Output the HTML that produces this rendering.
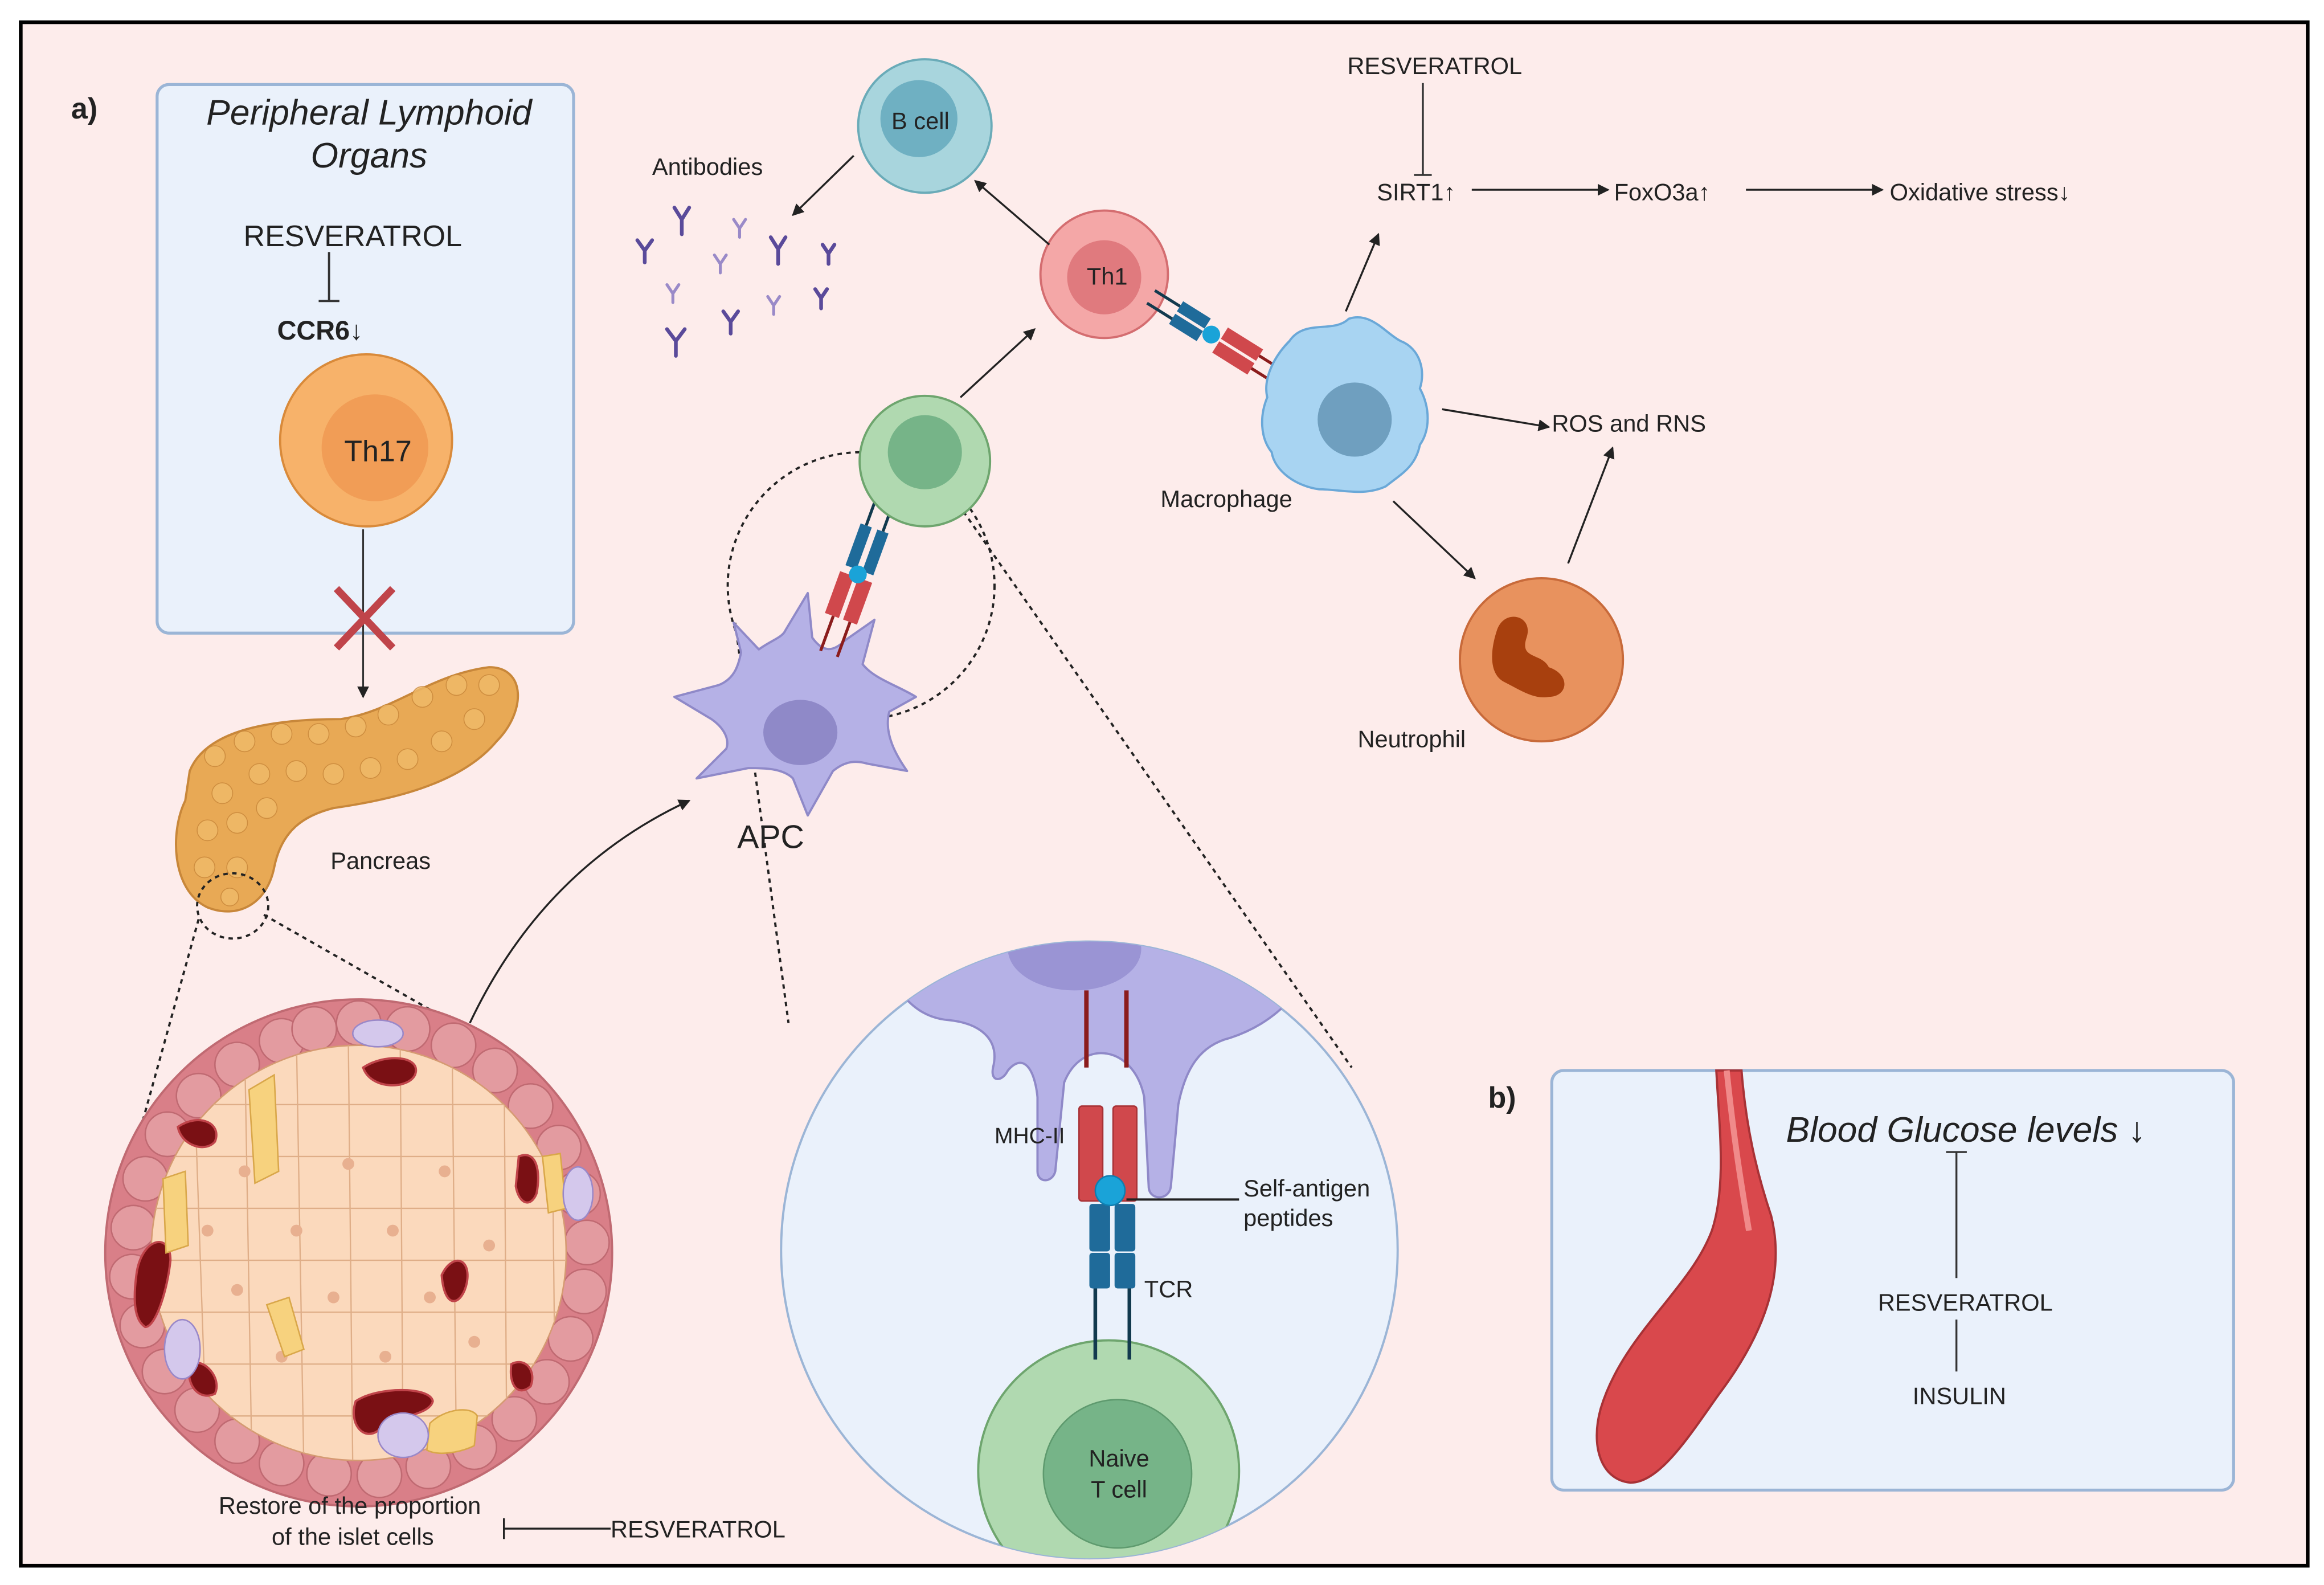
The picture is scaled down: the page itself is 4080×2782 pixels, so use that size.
<!DOCTYPE html>
<html><head><meta charset="utf-8"><style>
html,body{margin:0;padding:0;background:#fff}
svg{display:block}
text{font-family:"Liberation Sans",sans-serif;fill:#222}
</style></head><body>
<svg width="4080" height="2782" viewBox="0 0 1568 1069" preserveAspectRatio="none" xmlns="http://www.w3.org/2000/svg">
<defs>
<marker id="ar" markerWidth="8" markerHeight="8" refX="7" refY="4" orient="auto" markerUnits="userSpaceOnUse"><path d="M0,0 L8,4 L0,8 z" fill="#222"/></marker>
<clipPath id="bigc"><circle cx="735" cy="843" r="208"/></clipPath>
<clipPath id="frame"><rect x="14" y="15" width="1543" height="1041"/></clipPath>
<clipPath id="islet"><circle cx="242" cy="845" r="140"/></clipPath>
</defs>
<rect x="0" y="0" width="1568" height="1069" fill="#fff"/>
<rect x="14" y="15" width="1543" height="1041" fill="#fdeceb" stroke="#000" stroke-width="2.5"/>
<text x="48" y="80" font-size="20" font-weight="bold">a)</text>

<!-- left box -->
<rect x="106" y="57" width="281" height="370" rx="8" fill="#eaf1fb" stroke="#9bb5d6" stroke-width="2"/>
<text x="249" y="84" font-size="24" font-style="italic" text-anchor="middle">Peripheral Lymphoid</text>
<text x="249" y="113" font-size="24" font-style="italic" text-anchor="middle">Organs</text>
<text x="238" y="166" font-size="20" text-anchor="middle">RESVERATROL</text>
<line x1="222" y1="170" x2="222" y2="203" stroke="#333" stroke-width="1.5"/>
<line x1="215" y1="203" x2="229" y2="203" stroke="#333" stroke-width="1.5"/>
<text x="216" y="229" font-size="18" font-weight="bold" text-anchor="middle">CCR6↓</text>
<circle cx="247" cy="297" r="58" fill="#f7b26a" stroke="#d98a3a" stroke-width="1.5"/>
<circle cx="253" cy="302" r="36" fill="#f19d56"/>
<text x="255" y="311" font-size="20" text-anchor="middle">Th17</text>
<line x1="245" y1="357" x2="245" y2="470" stroke="#333" stroke-width="1.2" marker-end="url(#ar)"/>
<path d="M227,397 L265,437 M265,397 L227,437" stroke="#c0444a" stroke-width="5"/>

<!-- pancreas -->
<path d="M128,520 C140,490 190,485 230,485 C265,480 290,455 330,450 C355,450 355,480 335,500 C310,530 260,540 225,545 C205,550 190,560 185,585 C180,610 160,620 140,612 C115,600 115,560 125,540 Z" fill="#e8a955" stroke="#c8873a" stroke-width="1.5"/>
<g fill="#f0bb6a" stroke="#c8873a" stroke-width="0.6" opacity="0.8">
<circle cx="145" cy="510" r="7"/><circle cx="165" cy="500" r="7"/><circle cx="190" cy="495" r="7"/><circle cx="215" cy="495" r="7"/><circle cx="240" cy="490" r="7"/><circle cx="262" cy="482" r="7"/><circle cx="285" cy="470" r="7"/><circle cx="308" cy="462" r="7"/><circle cx="330" cy="462" r="7"/><circle cx="320" cy="485" r="7"/><circle cx="298" cy="500" r="7"/><circle cx="275" cy="512" r="7"/><circle cx="250" cy="518" r="7"/><circle cx="225" cy="522" r="7"/><circle cx="200" cy="520" r="7"/><circle cx="175" cy="522" r="7"/><circle cx="150" cy="535" r="7"/><circle cx="140" cy="560" r="7"/><circle cx="160" cy="555" r="7"/><circle cx="180" cy="545" r="7"/><circle cx="138" cy="585" r="7"/><circle cx="160" cy="585" r="7"/><circle cx="155" cy="605" r="6"/>
</g>
<text x="223" y="586" font-size="16">Pancreas</text>
<ellipse cx="157" cy="611" rx="24" ry="22" fill="none" stroke="#222" stroke-width="1.5" stroke-dasharray="3,3"/>
<line x1="134" y1="620" x2="73" y2="840" stroke="#222" stroke-width="1.5" stroke-dasharray="3,3"/>
<line x1="178" y1="617" x2="350" y2="715" stroke="#222" stroke-width="1.5" stroke-dasharray="3,3"/>

<!-- islet -->
<circle cx="242" cy="845" r="171" fill="#d97f88" stroke="#c06a72" stroke-width="1.5"/>
<g fill="#e39ba0" stroke="#c06a72" stroke-width="1">
<circle cx="242" cy="690" r="15"/><circle cx="275" cy="694" r="15"/><circle cx="306" cy="705" r="15"/><circle cx="334" cy="722" r="15"/><circle cx="358" cy="746" r="15"/><circle cx="377" cy="774" r="15"/><circle cx="390" cy="805" r="15"/><circle cx="396" cy="838" r="15"/><circle cx="394" cy="871" r="15"/><circle cx="385" cy="903" r="15"/><circle cx="369" cy="932" r="15"/><circle cx="347" cy="957" r="15"/><circle cx="320" cy="976" r="15"/><circle cx="289" cy="989" r="15"/><circle cx="256" cy="995" r="15"/><circle cx="222" cy="994" r="15"/><circle cx="190" cy="987" r="15"/><circle cx="160" cy="972" r="15"/><circle cx="133" cy="951" r="15"/><circle cx="111" cy="925" r="15"/><circle cx="96" cy="894" r="15"/><circle cx="89" cy="861" r="15"/><circle cx="90" cy="828" r="15"/><circle cx="98" cy="795" r="15"/><circle cx="113" cy="765" r="15"/><circle cx="134" cy="739" r="15"/><circle cx="160" cy="718" r="15"/><circle cx="190" cy="702" r="15"/><circle cx="212" cy="694" r="15"/>
</g>
<circle cx="242" cy="845" r="140" fill="#fbd9bc" stroke="#d59a72" stroke-width="1"/>
<g clip-path="url(#islet)" stroke="#dfae88" stroke-width="0.9" fill="none">
<path d="M100,745 L400,745 M100,780 L400,780 M100,815 L400,815 M100,850 L400,850 M100,885 L400,885 M100,920 L400,920 M100,955 L400,955"/>
<path d="M130,700 L140,990 M165,700 L170,990 M200,700 L205,990 M235,700 L238,990 M270,700 L272,990 M305,700 L308,990 M340,700 L342,990 M372,700 L375,990"/>
</g>
<g fill="#e8b090">
<circle cx="165" cy="790" r="4"/><circle cx="200" cy="830" r="4"/><circle cx="235" cy="785" r="4"/><circle cx="265" cy="830" r="4"/><circle cx="300" cy="790" r="4"/><circle cx="330" cy="840" r="4"/><circle cx="160" cy="870" r="4"/><circle cx="225" cy="875" r="4"/><circle cx="290" cy="875" r="4"/><circle cx="190" cy="915" r="4"/><circle cx="260" cy="915" r="4"/><circle cx="320" cy="905" r="4"/><circle cx="140" cy="830" r="4"/>
</g>
<g fill="#7a1014" stroke="#c0444a" stroke-width="1.5">
<path d="M120,760 C135,750 150,758 145,770 C138,778 122,772 120,760Z"/>
<path d="M245,720 C260,710 285,712 280,725 C275,735 250,735 245,720Z"/>
<path d="M92,860 C95,835 115,830 115,850 C113,870 105,895 98,895 C90,890 90,875 92,860Z"/>
<path d="M350,780 C362,775 365,790 362,805 C358,815 350,812 348,800Z"/>
<path d="M298,860 C305,845 318,848 315,865 C312,880 300,885 298,860Z"/>
<path d="M128,920 C138,915 150,930 145,940 C135,945 125,935 128,920Z"/>
<path d="M240,945 C255,935 290,935 292,945 C290,955 265,955 255,965 C245,972 235,960 240,945Z"/>
<path d="M345,920 C355,915 362,925 358,935 C350,942 343,935 345,920Z"/>
</g>
<g fill="#f7d27e" stroke="#d9a74a" stroke-width="1">
<path d="M168,735 L185,725 L188,790 L172,798 Z"/>
<path d="M110,795 L125,790 L127,840 L112,845 Z"/>
<path d="M366,780 L378,778 L382,815 L370,818 Z"/>
<path d="M180,880 L195,875 L205,910 L192,915 Z"/>
<path d="M290,960 C300,950 318,948 322,955 L320,975 C310,980 295,982 288,978 Z"/>
</g>
<g fill="#d4c8ec" stroke="#9a88c8" stroke-width="1">
<ellipse cx="255" cy="697" rx="17" ry="9"/>
<ellipse cx="390" cy="805" rx="10" ry="18"/>
<ellipse cx="123" cy="910" rx="12" ry="20"/>
<ellipse cx="272" cy="968" rx="17" ry="15"/>
</g>
<text x="236" y="1021" font-size="16" text-anchor="middle">Restore of the proportion</text>
<text x="238" y="1042" font-size="16" text-anchor="middle">of the islet cells</text>
<line x1="340" y1="1031" x2="412" y2="1031" stroke="#222" stroke-width="1.3"/>
<line x1="340" y1="1024" x2="340" y2="1038" stroke="#222" stroke-width="1.3"/>
<text x="412" y="1037" font-size="16">RESVERATROL</text>
<path d="M317,690 C350,620 400,570 465,540" fill="none" stroke="#222" stroke-width="1.3" marker-end="url(#ar)"/>

<!-- big zoom circle -->
<g clip-path="url(#frame)">
<circle cx="735" cy="843" r="208" fill="#eaf1fb" stroke="#9bb5d6" stroke-width="1.5"/>
<g clip-path="url(#bigc)">
<path d="M590,630 L900,630 C880,670 860,690 830,700 C810,705 800,720 795,745 L790,800 C789,810 775,810 775,800 L772,740 C765,705 730,700 718,730 L712,790 C710,798 700,798 700,790 L700,740 C698,720 690,710 680,722 C676,730 668,730 670,720 C675,700 660,690 640,688 C615,686 600,665 590,630Z" fill="#b5b1e6" stroke="#8f89c8" stroke-width="1.5"/>
<ellipse cx="725" cy="640" rx="45" ry="28" fill="#9a94d4"/>
<circle cx="748" cy="992" r="88" fill="#b0d9b0" stroke="#6ea56e" stroke-width="1.5"/>
<circle cx="754" cy="994" r="50" fill="#76b488" stroke="#5e9a6e" stroke-width="1"/>
</g>
</g>
<line x1="733" y1="668" x2="733" y2="720" stroke="#8b1c1c" stroke-width="3"/>
<line x1="760" y1="668" x2="760" y2="720" stroke="#8b1c1c" stroke-width="3"/>
<rect x="728" y="746" width="16" height="64" rx="2" fill="#d0484c" stroke="#a83236"/>
<rect x="751" y="746" width="16" height="64" rx="2" fill="#d0484c" stroke="#a83236"/>
<rect x="735" y="812" width="14" height="32" rx="2" fill="#1f6b9a"/>
<rect x="752" y="812" width="14" height="32" rx="2" fill="#1f6b9a"/>
<rect x="735" y="845" width="14" height="24" rx="2" fill="#1f6b9a"/>
<rect x="752" y="845" width="14" height="24" rx="2" fill="#1f6b9a"/>
<line x1="739" y1="869" x2="739" y2="917" stroke="#123a4e" stroke-width="2.5"/>
<line x1="762" y1="869" x2="762" y2="917" stroke="#123a4e" stroke-width="2.5"/>
<circle cx="749" cy="803" r="10" fill="#1aa3d8" stroke="#0f7eb0"/>
<line x1="760" y1="809" x2="836" y2="809" stroke="#222" stroke-width="1.5"/>
<text x="671" y="771" font-size="15">MHC-II</text>
<text x="839" y="807" font-size="16">Self-antigen</text>
<text x="839" y="827" font-size="16">peptides</text>
<text x="772" y="875" font-size="16">TCR</text>
<text x="755" y="989" font-size="16" text-anchor="middle">Naive</text>
<text x="755" y="1010" font-size="16" text-anchor="middle">T cell</text>

<!-- dashed zoom lines -->
<circle cx="581" cy="395" r="90" fill="none" stroke="#222" stroke-width="1.5" stroke-dasharray="3,3"/>
<line x1="496" y1="420" x2="532" y2="690" stroke="#222" stroke-width="1.5" stroke-dasharray="3,3"/>
<line x1="650" y1="345" x2="912" y2="720" stroke="#222" stroke-width="1.5" stroke-dasharray="3,3"/>

<!-- APC -->
<path d="M500,440 L495,420 L512,438 C520,432 528,430 530,425 L545,400 L548,430 C555,440 562,440 570,432 L590,418 L582,448 C590,458 605,462 618,470 L600,480 C596,495 605,510 612,520 L585,515 C575,512 568,515 562,520 L545,550 L535,525 C528,518 515,518 505,518 L470,525 L490,505 C492,500 490,492 480,485 L455,470 L485,462 C495,458 498,450 500,440Z" fill="#b5b1e6" stroke="#8f89c8" stroke-width="1.5" stroke-linejoin="round"/>
<ellipse cx="540" cy="494" rx="25" ry="22" fill="#8f89c8"/>
<text x="520" y="572" font-size="22" text-anchor="middle">APC</text>
<g transform="rotate(20 580 390)">
<rect x="566" y="390" width="10" height="30" fill="#d0484c"/><rect x="579" y="390" width="10" height="30" fill="#d0484c"/>
<rect x="568" y="355" width="8" height="30" fill="#1f6b9a"/><rect x="580" y="355" width="8" height="30" fill="#1f6b9a"/>
<line x1="572" y1="420" x2="572" y2="445" stroke="#8b1c1c" stroke-width="2"/><line x1="584" y1="420" x2="584" y2="445" stroke="#8b1c1c" stroke-width="2"/>
<line x1="572" y1="330" x2="572" y2="355" stroke="#123a4e" stroke-width="2"/><line x1="584" y1="330" x2="584" y2="355" stroke="#123a4e" stroke-width="2"/>
<circle cx="578" cy="388" r="6" fill="#1aa3d8"/>
</g>

<!-- green cell -->
<circle cx="624" cy="311" r="44" fill="#b0d9b0" stroke="#6ea56e" stroke-width="1.5"/>
<circle cx="624" cy="305" r="25" fill="#76b488"/>
<line x1="648" y1="268" x2="698" y2="222" stroke="#222" stroke-width="1.3" marker-end="url(#ar)"/>

<!-- Th1 -->
<circle cx="745" cy="185" r="43" fill="#f4a7a7" stroke="#d46d70" stroke-width="1.5"/>
<circle cx="745" cy="187" r="25" fill="#e07a7e"/>
<text x="747" y="192" font-size="16" text-anchor="middle">Th1</text>
<line x1="708" y1="165" x2="658" y2="122" stroke="#222" stroke-width="1.3" marker-end="url(#ar)"/>
<g transform="rotate(32 820 225)">
<rect x="790" y="218" width="22" height="8" fill="#1f6b9a"/><rect x="790" y="228" width="22" height="8" fill="#1f6b9a"/>
<rect x="825" y="217" width="28" height="9" fill="#d0484c"/><rect x="825" y="228" width="28" height="9" fill="#d0484c"/>
<line x1="770" y1="222" x2="790" y2="222" stroke="#123a4e" stroke-width="2"/><line x1="770" y1="232" x2="790" y2="232" stroke="#123a4e" stroke-width="2"/>
<line x1="853" y1="222" x2="868" y2="222" stroke="#8b1c1c" stroke-width="2"/><line x1="853" y1="232" x2="868" y2="232" stroke="#8b1c1c" stroke-width="2"/>
<circle cx="818" cy="227" r="6" fill="#1aa3d8"/>
</g>

<!-- B cell -->
<circle cx="624" cy="85" r="45" fill="#a8d5dd" stroke="#6aabb8" stroke-width="1.5"/>
<circle cx="620" cy="80" r="26" fill="#6fb0c2"/>
<text x="621" y="87" font-size="16" text-anchor="middle">B cell</text>
<line x1="576" y1="105" x2="535" y2="145" stroke="#222" stroke-width="1.3" marker-end="url(#ar)"/>
<text x="440" y="118" font-size="16">Antibodies</text>
<g stroke="#5a4a9a" stroke-width="2.5" fill="none" stroke-linecap="round">
<path d="M455,140 l5,8 l0,10 M465,140 l-5,8"/>
<path d="M430,162 l5,7 l0,8 M440,162 l-5,7"/>
<path d="M520,160 l5,8 l0,10 M530,160 l-5,8"/>
<path d="M555,165 l4,6 l0,7 M563,165 l-4,6"/>
<path d="M450,222 l6,8 l0,10 M462,222 l-6,8"/>
<path d="M488,210 l5,7 l0,8 M498,210 l-5,7"/>
<path d="M550,195 l4,6 l0,7 M558,195 l-4,6"/>
</g>
<g stroke="#9a8ac8" stroke-width="2" fill="none" stroke-linecap="round">
<path d="M495,148 l4,6 l0,6 M503,148 l-4,6"/><path d="M482,172 l4,6 l0,6 M490,172 l-4,6"/><path d="M450,192 l4,6 l0,6 M458,192 l-4,6"/><path d="M518,200 l4,6 l0,6 M526,200 l-4,6"/>
</g>

<!-- macrophage -->
<path d="M870,230 C880,215 900,225 910,215 C925,210 935,225 945,230 C958,235 962,250 958,262 C965,275 965,290 958,300 C955,315 945,320 935,328 C920,335 905,330 890,330 C875,328 860,318 858,305 C850,295 850,280 855,268 C852,255 860,240 870,230Z" fill="#a8d4f2" stroke="#6aa8d8" stroke-width="1.5"/>
<circle cx="914" cy="283" r="25" fill="#6f9fbf"/>
<text x="783" y="342" font-size="16">Macrophage</text>
<line x1="908" y1="210" x2="930" y2="158" stroke="#222" stroke-width="1.3" marker-end="url(#ar)"/>
<line x1="973" y1="276" x2="1045" y2="288" stroke="#222" stroke-width="1.3" marker-end="url(#ar)"/>
<line x1="940" y1="338" x2="995" y2="390" stroke="#222" stroke-width="1.3" marker-end="url(#ar)"/>
<text x="1047" y="291" font-size="16">ROS and RNS</text>
<line x1="1058" y1="380" x2="1088" y2="302" stroke="#222" stroke-width="1.3" marker-end="url(#ar)"/>

<!-- neutrophil -->
<circle cx="1040" cy="445" r="55" fill="#e8925e" stroke="#c86a3a" stroke-width="1.5"/>
<path d="M1010,425 C1015,410 1035,415 1030,430 C1025,445 1040,440 1045,450 C1060,455 1058,470 1045,470 C1035,472 1025,465 1015,460 C1005,455 1005,440 1010,425Z" fill="#a8400e"/>
<text x="916" y="504" font-size="16">Neutrophil</text>

<!-- top right pathway -->
<text x="968" y="50" font-size="16" text-anchor="middle">RESVERATROL</text>
<line x1="960" y1="56" x2="960" y2="118" stroke="#333" stroke-width="1.3"/>
<line x1="954" y1="118" x2="966" y2="118" stroke="#333" stroke-width="1.3"/>
<text x="929" y="135" font-size="16">SIRT1↑</text>
<line x1="993" y1="128" x2="1085" y2="128" stroke="#222" stroke-width="1.3" marker-end="url(#ar)"/>
<text x="1089" y="135" font-size="16">FoxO3a↑</text>
<line x1="1178" y1="128" x2="1270" y2="128" stroke="#222" stroke-width="1.3" marker-end="url(#ar)"/>
<text x="1275" y="135" font-size="16">Oxidative stress↓</text>

<!-- b box -->
<text x="1004" y="747" font-size="20" font-weight="bold">b)</text>
<rect x="1047" y="722" width="460" height="283" rx="8" fill="#eaf1fb" stroke="#9bb5d6" stroke-width="2"/>
<path d="M1158,722 L1175,722 C1178,760 1185,790 1195,820 C1205,860 1190,900 1160,940 C1140,968 1120,1000 1100,1000 C1080,998 1073,975 1080,950 C1095,900 1140,870 1155,830 C1165,800 1160,760 1158,722Z" fill="#d9484c" stroke="#a83236" stroke-width="1.5"/>
<path d="M1165,722 C1170,770 1175,800 1180,830" stroke="#f08a8a" stroke-width="4" fill="none"/>
<text x="1205" y="770" font-size="24" font-style="italic">Blood Glucose levels ↓</text>
<line x1="1320" y1="777" x2="1320" y2="862" stroke="#333" stroke-width="1.3"/>
<line x1="1313" y1="777" x2="1327" y2="777" stroke="#333" stroke-width="1.3"/>
<text x="1326" y="884" font-size="16" text-anchor="middle">RESVERATROL</text>
<line x1="1320" y1="890" x2="1320" y2="925" stroke="#333" stroke-width="1.3"/>
<text x="1322" y="947" font-size="16" text-anchor="middle">INSULIN</text>
</svg>
</body></html>
